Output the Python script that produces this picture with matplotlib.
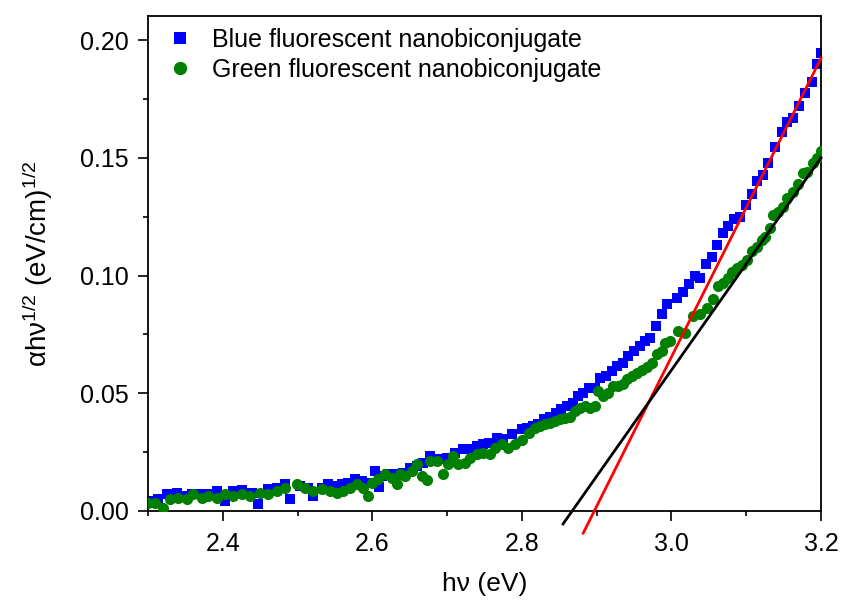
import matplotlib.pyplot as plt
from matplotlib.ticker import MultipleLocator

plt.rcParams['font.family'] = ['Liberation Sans', 'DejaVu Sans']
plt.rcParams['mathtext.fontset'] = 'custom'
plt.rcParams['mathtext.rm'] = 'Liberation Sans'
plt.rcParams['mathtext.it'] = 'Liberation Sans:italic'

# blue fluorescent nanobiconjugate
blue_x = [2.305, 2.313, 2.325, 2.339, 2.347, 2.359, 2.370, 2.380, 2.392, 2.403,
          2.414, 2.426, 2.439, 2.447, 2.461, 2.472, 2.483, 2.490, 2.503, 2.514,
          2.521, 2.533, 2.541, 2.547, 2.559, 2.567, 2.577, 2.586, 2.594, 2.604,
          2.609, 2.613, 2.621, 2.630, 2.641, 2.650, 2.660, 2.668, 2.677, 2.690,
          2.700, 2.711, 2.721, 2.731, 2.740, 2.748, 2.756, 2.767, 2.775, 2.787,
          2.800, 2.807, 2.815, 2.822, 2.830, 2.838, 2.846, 2.852, 2.860, 2.868,
          2.875, 2.882, 2.890, 2.898, 2.904, 2.912, 2.920, 2.927, 2.935, 2.942,
          2.950, 2.958, 2.965, 2.971, 2.979, 2.987, 2.994, 3.007, 3.015, 3.023,
          3.031, 3.038, 3.046, 3.054, 3.061, 3.069, 3.076, 3.084, 3.092, 3.100,
          3.108, 3.114, 3.122, 3.129, 3.138, 3.148, 3.155, 3.162, 3.171, 3.179,
          3.188, 3.194, 3.200]
blue_y = [0.0043, 0.0050, 0.0072, 0.0077, 0.0064, 0.0072, 0.0072, 0.0072, 0.0085, 0.0043,
          0.0085, 0.0090, 0.0077, 0.0030, 0.0094, 0.0098, 0.0115, 0.0050, 0.0106, 0.0098,
          0.0064, 0.0098, 0.0115, 0.0106, 0.0115, 0.0120, 0.0136, 0.0128, 0.0120, 0.0168,
          0.0100, 0.0149, 0.0157, 0.0157, 0.0160, 0.0183, 0.0190, 0.0204, 0.0234, 0.0220,
          0.0226, 0.0247, 0.0264, 0.0264, 0.0277, 0.0285, 0.0290, 0.0310, 0.0306, 0.0328,
          0.0350, 0.0353, 0.0360, 0.0370, 0.0390, 0.0400, 0.0417, 0.0434, 0.0447, 0.0460,
          0.0490, 0.0500, 0.0523, 0.0523, 0.0566, 0.0574, 0.0596, 0.0617, 0.0630, 0.0660,
          0.0680, 0.0700, 0.0723, 0.0736, 0.0787, 0.0838, 0.0880, 0.0906, 0.0928, 0.0966,
          0.1000, 0.0990, 0.1050, 0.1080, 0.1130, 0.1180, 0.1210, 0.1240, 0.1250, 0.1300,
          0.1345, 0.1400, 0.1426, 0.1477, 0.1545, 0.1610, 0.1650, 0.1670, 0.1720, 0.1774,
          0.1820, 0.1900, 0.1946]

# green fluorescent nanobiconjugate
green_x = [2.300, 2.309, 2.320, 2.329, 2.340, 2.352, 2.360, 2.372, 2.380, 2.392,
           2.403, 2.414, 2.426, 2.436, 2.450, 2.461, 2.472, 2.483, 2.499, 2.510,
           2.521, 2.533, 2.543, 2.553, 2.561, 2.570, 2.580, 2.588, 2.594, 2.600,
           2.608, 2.617, 2.626, 2.633, 2.637, 2.644, 2.653, 2.660, 2.666, 2.673,
           2.677, 2.686, 2.694, 2.701, 2.708, 2.715, 2.724, 2.731, 2.740, 2.748,
           2.757, 2.764, 2.773, 2.781, 2.791, 2.800, 2.810, 2.818, 2.824, 2.831,
           2.838, 2.844, 2.851, 2.858, 2.864, 2.871, 2.878, 2.884, 2.891, 2.898,
           2.902, 2.908, 2.915, 2.922, 2.929, 2.935, 2.940, 2.947, 2.954, 2.961,
           2.967, 2.974, 2.981, 2.987, 2.991, 2.998, 3.009, 3.018, 3.029, 3.038,
           3.048, 3.056, 3.062, 3.069, 3.076, 3.081, 3.088, 3.094, 3.101, 3.108,
           3.114, 3.121, 3.125, 3.132, 3.136, 3.143, 3.149, 3.155, 3.163, 3.169,
           3.176, 3.181, 3.189, 3.195, 3.200]
green_y = [0.0034, 0.0034, 0.0013, 0.0050, 0.0055, 0.0050, 0.0072, 0.0055, 0.0064, 0.0055,
           0.0072, 0.0064, 0.0072, 0.0064, 0.0077, 0.0072, 0.0085, 0.0098, 0.0115, 0.0098,
           0.0085, 0.0094, 0.0085, 0.0077, 0.0085, 0.0098, 0.0115, 0.0098, 0.0064, 0.0120,
           0.0136, 0.0157, 0.0140, 0.0115, 0.0157, 0.0149, 0.0170, 0.0200, 0.0149, 0.0132,
           0.0213, 0.0213, 0.0157, 0.0200, 0.0234, 0.0200, 0.0204, 0.0226, 0.0243, 0.0247,
           0.0243, 0.0268, 0.0285, 0.0268, 0.0285, 0.0300, 0.0330, 0.0353, 0.0360, 0.0370,
           0.0375, 0.0383, 0.0390, 0.0396, 0.0400, 0.0425, 0.0438, 0.0447, 0.0438, 0.0447,
           0.0510, 0.0490, 0.0500, 0.0532, 0.0532, 0.0540, 0.0560, 0.0574, 0.0587, 0.0600,
           0.0610, 0.0630, 0.0668, 0.0680, 0.0715, 0.0723, 0.0766, 0.0757, 0.0830, 0.0838,
           0.0860, 0.0900, 0.0957, 0.0970, 0.0990, 0.1013, 0.1030, 0.1043, 0.1064, 0.1106,
           0.1120, 0.1149, 0.1162, 0.1200, 0.1255, 0.1268, 0.1290, 0.1328, 0.1353, 0.1390,
           0.1434, 0.1438, 0.1477, 0.1500, 0.1530]

# linear fits (end points)
red_fit_x = [2.882, 3.200]
red_fit_y = [-0.0094, 0.1923]
black_fit_x = [2.855, 3.200]
black_fit_y = [-0.0055, 0.1500]

fig = plt.figure(figsize=(8.42, 6.02), dpi=100)
ax = fig.add_axes([0.1758, 0.1512, 0.7993, 0.8222])

ax.plot(blue_x, blue_y, 's', color='#0000ff', ms=7.5, mec='#0000ff', mew=0,
        label='Blue fluorescent nanobiconjugate', zorder=2)
ax.plot(green_x, green_y, 'o', color='#007f00', ms=8, mec='#007f00', mew=0,
        label='Green fluorescent nanobiconjugate', zorder=3)
ax.plot(red_fit_x, red_fit_y, '-', color='#ff0000', lw=2, clip_on=False, zorder=4)
ax.plot(black_fit_x, black_fit_y, '-', color='black', lw=2, clip_on=False, zorder=4)

ax.set_xlim(2.3, 3.2)
ax.set_ylim(0, 0.2102)
ax.xaxis.set_major_locator(MultipleLocator(0.2))
ax.xaxis.set_minor_locator(MultipleLocator(0.1))
ax.yaxis.set_major_locator(MultipleLocator(0.05))
ax.yaxis.set_minor_locator(MultipleLocator(0.025))
ax.xaxis.set_major_formatter(lambda v, p: f'{v:.1f}')
ax.yaxis.set_major_formatter(lambda v, p: f'{v:.2f}')

ax.tick_params(which='both', direction='out', top=False, right=False, width=1.2,
               labelsize=18)
ax.tick_params(which='major', length=7)
ax.tick_params(which='minor', length=3.5)
ax.tick_params(axis='y', pad=7)
ax.tick_params(axis='x', pad=8)
for s in ax.spines.values():
    s.set_linewidth(1.3)

ax.set_xlabel('hν (eV)', fontsize=19, labelpad=12)
ax.set_ylabel('αhν$^{1/2}$ (eV/cm)$^{1/2}$', fontsize=20, labelpad=18)

ax.legend(loc='upper left', frameon=False, fontsize=18, handletextpad=0.8,
          handlelength=1.0, borderaxespad=0, labelspacing=0.25, markerscale=1.2,
          bbox_to_anchor=(0.014, 0.996))

fig.savefig('out.png', dpi=100)
